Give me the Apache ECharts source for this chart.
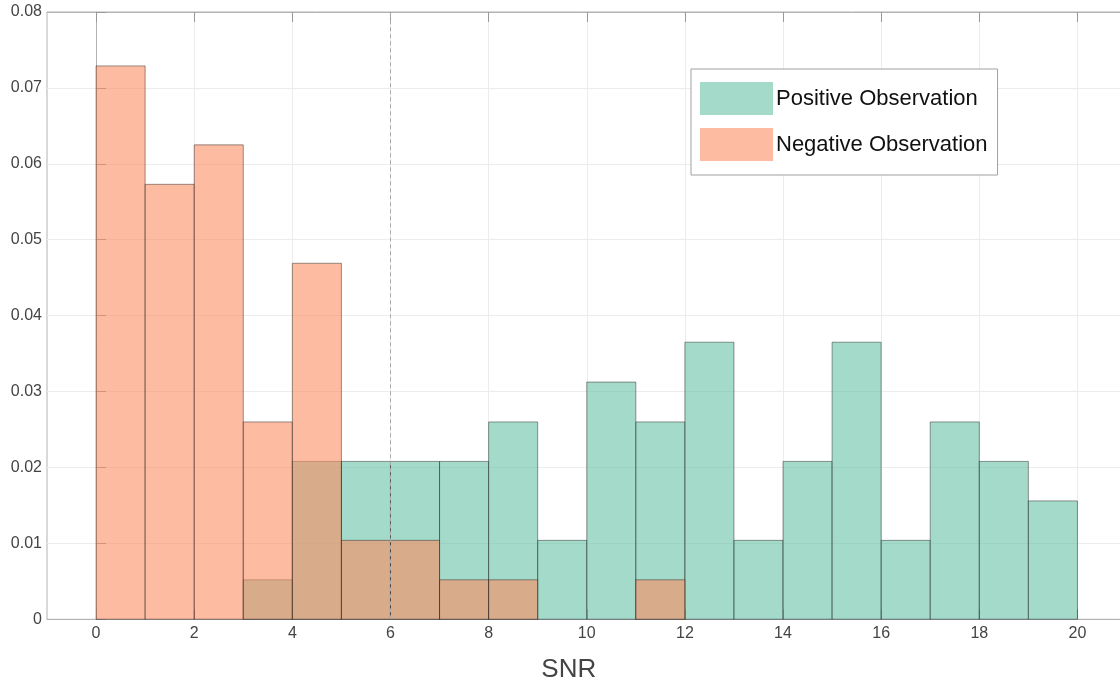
<!DOCTYPE html>
<html>
<head>
<meta charset="utf-8">
<script src="https://cdn.jsdelivr.net/npm/echarts@6/dist/echarts.min.js"></script>
<style>
html,body{margin:0;padding:0;background:#fff;}
#chart{width:1120px;height:683px;}
</style>
</head>
<body>
<div id="chart"></div>
<script>
// Histogram bins (left edges, width 1)
var binStarts = [0,1,2,3,4,5,6,7,8,9,10,11,12,13,14,15,16,17,18,19];
var positiveValues = [0,0,0,0.0052,0.0208,0.0208,0.0208,0.0208,0.026,0.0104,0.03125,0.026,0.0365,0.0104,0.0208,0.0365,0.0104,0.026,0.0208,0.0156];
var negativeValues = [0.0729,0.0573,0.0625,0.026,0.0469,0.0104,0.0104,0.0052,0.0052,0,0,0.0052,0,0,0,0,0,0,0,0];
var xTicks = [0,2,4,6,8,10,12,14,16,18,20];
var seriesNames = ['Positive Observation','Negative Observation'];
var thresholdX = 6;

var posColor = 'rgba(102,194,165,0.6)';
var negColor = 'rgba(252,141,98,0.6)';

function toData(vals){
  return binStarts.map(function(b,i){ return [b, vals[i]]; });
}
function makeRender(color){
  return function(params, api){
    var x0 = api.value(0), h = api.value(1);
    if (!h) return;
    var p0 = api.coord([x0, 0]);
    var p1 = api.coord([x0 + 1, h]);
    return {
      type: 'rect',
      shape: {x: p0[0], y: p1[1], width: p1[0] - p0[0], height: p0[1] - p1[1]},
      style: {fill: color, stroke: 'rgba(30,30,30,0.65)', lineWidth: 0.7}
    };
  };
}

var chart = echarts.init(document.getElementById('chart'), null, {renderer:'canvas'});
var font = '"Liberation Sans", Arial, Helvetica, sans-serif';
chart.setOption({
  animation: false,
  backgroundColor: '#fff',
  grid: {left: 47, top: 12, width: 1079.5, height: 607.3, containLabel: false, outerBoundsMode: 'none',
         show: true, borderColor: '#b3b3b3', borderWidth: 1, backgroundColor: 'transparent'},
  legend: {
    orient: 'vertical',
    left: 691, top: 69,
    padding: [13, 10, 14, 9],
    itemGap: 13,
    itemWidth: 73, itemHeight: 33,
    backgroundColor: '#fff',
    borderColor: '#a0a0a0', borderWidth: 1,
    textStyle: {fontFamily: font, fontSize: 22, color: '#111', padding: [5,0,0,-2]},
    data: [
      {name: seriesNames[0], icon: 'rect', itemStyle: {color: posColor, borderWidth: 0}},
      {name: seriesNames[1], icon: 'rect', itemStyle: {color: negColor, borderWidth: 0}}
    ]
  },
  xAxis: [{
    type: 'value', min: -1, max: 21,
    name: 'SNR', nameLocation: 'middle', nameGap: 38,
    nameTextStyle: {fontFamily: font, fontSize: 26, color: '#444', padding: [0, 36, 0, 0]},
    axisLine: {show: true, onZero: false, lineStyle: {color: '#b3b3b3'}},
    axisTick: {show: true, inside: true, length: 10, customValues: xTicks, lineStyle: {color: '#999'}},
    axisLabel: {customValues: xTicks, fontFamily: font, fontSize: 16, color: '#444', margin: 6},
    splitLine: {show: true, lineStyle: {color: '#ececec'}}
  },{
    type: 'value', min: -1, max: 21, position: 'top',
    axisLine: {show: true, onZero: false, lineStyle: {color: '#b3b3b3'}},
    axisTick: {show: true, inside: true, length: 10, customValues: xTicks, lineStyle: {color: '#999'}},
    axisLabel: {show: false, customValues: xTicks},
    splitLine: {show: false}
  }],
  yAxis: {
    type: 'value', min: 0, max: 0.08, interval: 0.01,
    axisLine: {show: true, lineStyle: {color: '#b3b3b3'}},
    axisTick: {show: true, inside: true, length: 10, lineStyle: {color: '#999'}},
    axisLabel: {fontFamily: font, fontSize: 16, color: '#444', margin: 5},
    splitLine: {show: true, lineStyle: {color: '#ececec'}}
  },
  series: [{
    name: seriesNames[0], type: 'custom', renderItem: makeRender(posColor),
    itemStyle: {color: posColor},
    encode: {x: 0, y: 1}, data: toData(positiveValues), z: 2
  },{
    name: seriesNames[1], type: 'custom', renderItem: makeRender(negColor),
    itemStyle: {color: negColor},
    encode: {x: 0, y: 1}, data: toData(negativeValues), z: 3,
    markLine: {
      silent: true, symbol: ['none','none'], label: {show: false},
      lineStyle: {color: '#aaa', type: [4,3], width: 1},
      data: [{xAxis: thresholdX}], z: 5
    }
  }]
});
</script>
</body>
</html>
